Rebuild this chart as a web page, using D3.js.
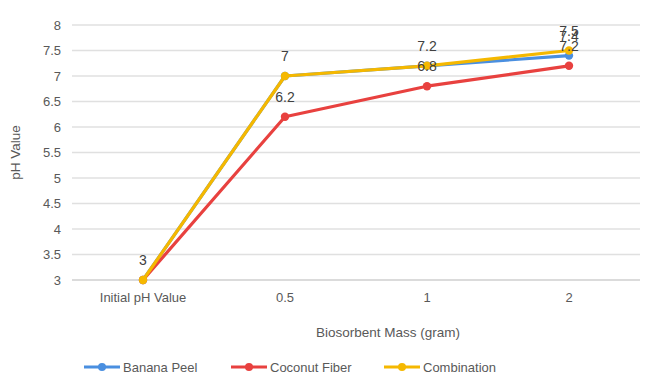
<!DOCTYPE html>
<html>
<head>
<meta charset="utf-8">
<script src="https://cdn.jsdelivr.net/npm/d3@7"></script>
<style>
  html, body { margin: 0; padding: 0; background: #fff; }
  svg { display: block; font-family: "Liberation Sans", Arial, sans-serif; }
</style>
</head>
<body>
<svg id="chart" width="650" height="384"></svg>
<script>
// Categories along the x axis
const categories = ["Initial pH Value", "0.5", "1", "2"];

// pH readings for each biosorbent
const bananaPeel   = [3, 7, 7.2, 7.4];
const coconutFiber = [3, 6.2, 6.8, 7.2];
const combination  = [3, 7, 7.2, 7.5];

const seriesNames  = ["Banana Peel", "Coconut Fiber", "Combination"];
const seriesColors = ["#4a8fe0", "#e8413f", "#f5b800"];

// Y axis tick values
const yTicks = [3, 3.5, 4, 4.5, 5, 5.5, 6, 6.5, 7, 7.5, 8];

const series = [bananaPeel, coconutFiber, combination].map((values, i) => ({
  name: seriesNames[i], color: seriesColors[i], values
}));

const svg = d3.select("#chart");
const margin = { left: 72, right: 10, top: 25, bottom: 104 };
const W = 650, H = 384;

const x = d3.scaleBand().domain(categories).range([margin.left, W - margin.right]);
const y = d3.scaleLinear().domain([3, 8]).range([H - margin.bottom, margin.top]);
const cx = c => x(c) + x.bandwidth() / 2;

// Horizontal gridlines
svg.append("g")
  .selectAll("line")
  .data(yTicks)
  .join("line")
  .attr("x1", margin.left).attr("x2", W - margin.right)
  .attr("y1", d => y(d)).attr("y2", d => y(d))
  .attr("stroke", d => d === 3 ? "#cfcfcf" : "#e0e0e0")
  .attr("stroke-width", 1.3);

// Y axis labels
const yAxis = svg.append("g")
  .attr("transform", `translate(${margin.left - 11},0)`)
  .call(d3.axisLeft(y).tickValues(yTicks).tickSize(0).tickPadding(0).tickFormat(d3.format("")));
yAxis.select(".domain").remove();
yAxis.selectAll("text").attr("fill", "#595959").style("font-size", "13px");

// X axis labels
const xAxis = svg.append("g")
  .attr("transform", `translate(0,${H - margin.bottom + 13})`)
  .call(d3.axisBottom(x).tickSize(0).tickPadding(0));
xAxis.select(".domain").remove();
xAxis.selectAll("text").attr("fill", "#595959").style("font-size", "13px");

// Axis titles
svg.append("text")
  .attr("transform", `translate(20,${(margin.top + H - margin.bottom) / 2}) rotate(-90)`)
  .attr("text-anchor", "middle")
  .attr("fill", "#595959")
  .style("font-size", "13.5px")
  .text("pH Value");

svg.append("text")
  .attr("x", 388).attr("y", 337)
  .attr("text-anchor", "middle")
  .attr("fill", "#595959")
  .style("font-size", "13.5px")
  .text("Biosorbent Mass (gram)");

// Lines and markers
const line = d3.line()
  .x((d, i) => cx(categories[i]))
  .y(d => y(d));

const plot = svg.append("g");
series.forEach(s => {
  const g = plot.append("g");
  g.append("path")
    .datum(s.values)
    .attr("d", line)
    .attr("fill", "none")
    .attr("stroke", s.color)
    .attr("stroke-width", 3.2)
    .attr("stroke-linejoin", "round")
    .attr("stroke-linecap", "round");
  g.selectAll("circle")
    .data(s.values)
    .join("circle")
    .attr("cx", (d, i) => cx(categories[i]))
    .attr("cy", d => y(d))
    .attr("r", 4.2)
    .attr("fill", s.color);
});

// Data labels above each point; points that coincide share one label
const labelData = [];
const seen = new Set();
series.forEach(s => {
  s.values.forEach((v, i) => {
    const key = categories[i] + "|" + v;
    if (seen.has(key)) return;
    seen.add(key);
    labelData.push({ cat: categories[i], value: v });
  });
});

svg.append("g")
  .selectAll("text")
  .data(labelData)
  .join("text")
  .attr("x", d => cx(d.cat))
  .attr("y", d => y(d.value) - 15)
  .attr("text-anchor", "middle")
  .attr("fill", "#404040")
  .style("font-size", "14px")
  .text(d => d.value);

// Legend
const legendX = [84, 231, 384];
const legend = svg.append("g");
series.forEach((s, i) => {
  const g = legend.append("g").attr("transform", `translate(${legendX[i]},367)`);
  g.append("line")
    .attr("x1", 0).attr("x2", 36).attr("y1", 0).attr("y2", 0)
    .attr("stroke", s.color).attr("stroke-width", 3.2);
  g.append("circle").attr("cx", 18).attr("cy", 0).attr("r", 4).attr("fill", s.color);
  g.append("text")
    .attr("x", 39).attr("y", 4.5)
    .attr("fill", "#595959")
    .style("font-size", "13px")
    .text(s.name);
});
</script>
</body>
</html>
